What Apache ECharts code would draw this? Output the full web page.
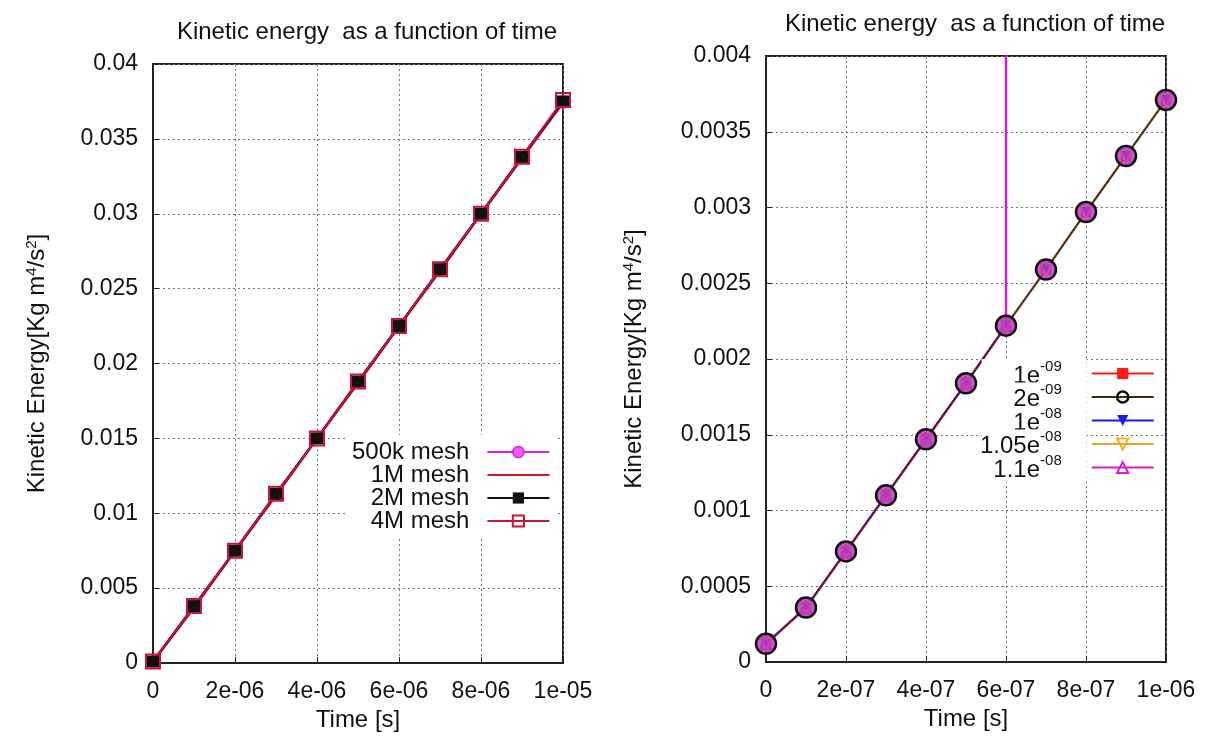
<!DOCTYPE html>
<html>
<head>
<meta charset="utf-8">
<script src="https://cdn.jsdelivr.net/npm/echarts@6/dist/echarts.min.js"></script>
<style>
  html, body { margin: 0; padding: 0; background: #fff; }
  #chart { width: 1208px; height: 738px; }
</style>
</head>
<body>
<div id="chart"></div>
<script>
// left panel: mesh study, time in s
var meshTime = [0, 1e-6, 2e-6, 3e-6, 4e-6, 5e-6, 6e-6, 7e-6, 8e-6, 9e-6, 1e-5];
var mesh500k = [0.0001, 0.0037, 0.0075, 0.0112, 0.0150, 0.0187, 0.0225, 0.0262, 0.0300, 0.0337, 0.0374];
var mesh1M   = [0.0001, 0.0037, 0.0075, 0.0112, 0.0150, 0.0187, 0.0225, 0.0262, 0.0300, 0.0337, 0.0375];
var mesh2M   = [0.0001, 0.0038, 0.0075, 0.0113, 0.0150, 0.0188, 0.0225, 0.0263, 0.0300, 0.0338, 0.0375];
var mesh4M   = [0.0001, 0.0038, 0.0075, 0.0113, 0.0150, 0.0188, 0.0225, 0.0263, 0.0300, 0.0338, 0.0376];

// right panel: time step study
var stepTime = [0, 1e-7, 2e-7, 3e-7, 4e-7, 5e-7, 6e-7, 7e-7, 8e-7, 9e-7, 1e-6];
var step1e09   = [0.00012, 0.00036, 0.00073, 0.00110, 0.00147, 0.00184, 0.00222, 0.00259, 0.00297, 0.00334, 0.00371];
var step2e09   = [0.00012, 0.00036, 0.00073, 0.00110, 0.00147, 0.00184, 0.00222, 0.00259, 0.00297, 0.00334, 0.00371];
var step1e08   = [0.00012, 0.00036, 0.00073, 0.00110, 0.00147, 0.00184, 0.00222, 0.00259, 0.00297, 0.00334, 0.00371];
var step105e08 = [0.00012, 0.00036, 0.00073, 0.00110, 0.00147, 0.00184, 0.00222, 0.00259, 0.00297, 0.00334, 0.00371];
// 1.1e-08 blows up just after 6e-07
var step11Time = [0, 1e-7, 2e-7, 3e-7, 4e-7, 5e-7, 6e-7, 6.001e-7];
var step11e08  = [0.00012, 0.00036, 0.00073, 0.00110, 0.00147, 0.00184, 0.00222, 0.05];

var font = '"Liberation Sans", Arial, sans-serif';
var fs = 23;   // tick labels
var fn = 24;   // titles, axis names, legend

function pairs(xs, ys) {
  return xs.map(function (x, i) { return [x, ys[i]]; });
}

function expLabel(v) {
  if (v === 0) return '0';
  var s = v.toExponential(0).split('e');
  var e = parseInt(s[1], 10);
  var sign = e < 0 ? '-' : '+';
  e = Math.abs(e);
  return s[0] + 'e' + sign + (e < 10 ? '0' + e : e);
}

// superscript for legend names like 1e-09
function supLegend(name) {
  var s = name.split('e');
  return '{b|' + s[0] + 'e}{s|' + '-' + s[1].replace('-', '') + '}';
}

var gridLine = { show: true, lineStyle: { color: '#777', type: [2, 3], width: 1 } };
var labelStyle = { color: '#111', fontFamily: font, fontSize: fs };
var nameRich = {
  sup: { fontSize: 15, verticalAlign: 'top', padding: [0, 0, 12, 0], fontFamily: font, color: '#111' }
};

function xAx(idx, max, interval) {
  return {
    type: 'value', gridIndex: idx, min: 0, max: max, interval: interval,
    name: 'Time [s]', nameLocation: 'middle', nameGap: 44,
    nameTextStyle: { color: '#111', fontFamily: font, fontSize: fn },
    axisLine: { show: true, lineStyle: { color: '#222', width: 2 } },
    axisTick: { show: true, inside: true, length: 6, lineStyle: { color: '#222' } },
    axisLabel: Object.assign({ formatter: expLabel, margin: 17 }, labelStyle),
    splitLine: gridLine
  };
}

function yAx(idx, max, interval, gap) {
  return {
    type: 'value', gridIndex: idx, min: 0, max: max, interval: interval,
    name: 'Kinetic Energy[Kg m{sup|4}/s{sup|2}]', nameLocation: 'middle', nameGap: gap,
    nameTextStyle: { color: '#111', fontFamily: font, fontSize: fn, rich: nameRich },
    axisLine: { show: true, lineStyle: { color: '#222', width: 2 } },
    axisTick: { show: true, inside: true, length: 6, lineStyle: { color: '#222' } },
    axisLabel: Object.assign({ margin: 15 }, labelStyle),
    splitLine: gridLine
  };
}

var chart = echarts.init(document.getElementById('chart'));

chart.setOption({
  backgroundColor: '#fff',
  animation: false,
  title: [
    { text: 'Kinetic energy  as a function of time', left: 362, top: 15, textAlign: 'center',
      textStyle: { color: '#111', fontFamily: font, fontSize: fn, fontWeight: 'normal' } },
    { text: 'Kinetic energy  as a function of time', left: 970, top: 7, textAlign: 'center',
      textStyle: { color: '#111', fontFamily: font, fontSize: fn, fontWeight: 'normal' } }
  ],
  grid: [
    { left: 153, top: 64, width: 410, height: 599, show: true, borderColor: '#222', borderWidth: 2, backgroundColor: '#fff' },
    { left: 766, top: 56, width: 400, height: 606, show: true, borderColor: '#222', borderWidth: 2, backgroundColor: '#fff' }
  ],
  xAxis: [xAx(0, 1e-5, 2e-6), xAx(1, 1e-6, 2e-7)],
  yAxis: [yAx(0, 0.04, 0.005, 102), yAx(1, 0.004, 0.0005, 118)],
  legend: [
    {
      data: [
        { name: '500k mesh', itemStyle: { color: '#f060f0', borderColor: '#e020e0', borderWidth: 1.5 } },
        { name: '1M mesh', itemStyle: { color: 'rgba(0,0,0,0)', borderWidth: 0 } },
        { name: '2M mesh' },
        { name: '4M mesh' }
      ],
      orient: 'vertical', left: 347, top: 435, align: 'right',
      itemWidth: 62, itemHeight: 14, itemGap: -1,
      backgroundColor: '#fff',
      textStyle: { color: '#111', fontFamily: font, fontSize: fn, width: 126, align: 'right', padding: [0, 13, 0, 0] }
    },
    {
      data: [
        { name: '1e-09' },
        { name: '2e-09', itemStyle: { color: 'rgba(0,0,0,0)', borderColor: '#111', borderWidth: 2.5 } },
        { name: '1e-08' },
        { name: '1.05e-08' },
        { name: '1.1e-08' }
      ],
      orient: 'vertical', left: 975, top: 354, align: 'right',
      itemWidth: 62, itemHeight: 14, itemGap: -5.5,
      backgroundColor: 'rgba(0,0,0,0)',
      formatter: supLegend,
      textStyle: {
        color: '#111', fontFamily: font, fontSize: fn, width: 80, align: 'right', padding: [0, 25, 0, 0],
        backgroundColor: '#fff',
        rich: {
          b: { fontSize: fn, fontFamily: font, color: '#111', verticalAlign: 'bottom' },
          s: { fontSize: 15, fontFamily: font, color: '#111', verticalAlign: 'top', padding: [0, 0, 14, 0] }
        }
      }
    }
  ],
  series: [
    { name: '500k mesh', type: 'line', xAxisIndex: 0, yAxisIndex: 0, data: pairs(meshTime, mesh500k),
      symbol: 'circle', symbolSize: 11, lineStyle: { color: '#e020e0', width: 2.5 },
      itemStyle: { color: '#e020e0', borderColor: '#e020e0' } },
    { name: '1M mesh', type: 'line', xAxisIndex: 0, yAxisIndex: 0, data: pairs(meshTime, mesh1M),
      symbol: 'none', lineStyle: { color: '#d01a2a', width: 2.5 }, itemStyle: { color: '#d01a2a' } },
    { name: '2M mesh', type: 'line', xAxisIndex: 0, yAxisIndex: 0, data: pairs(meshTime, mesh2M),
      symbol: 'rect', symbolSize: 12, lineStyle: { color: '#111', width: 2.5 },
      itemStyle: { color: '#111' } },
    { name: '4M mesh', type: 'line', xAxisIndex: 0, yAxisIndex: 0, data: pairs(meshTime, mesh4M),
      symbol: 'rect', symbolSize: 14,
      lineStyle: { color: '#c8143a', width: 2 },
      itemStyle: { color: 'rgba(0,0,0,0)', borderColor: '#c8143a', borderWidth: 2 } },

    { name: '1e-09', type: 'line', xAxisIndex: 1, yAxisIndex: 1, data: pairs(stepTime, step1e09),
      symbol: 'rect', symbolSize: 11, lineStyle: { color: '#ff1a1a', width: 2 },
      itemStyle: { color: '#ff1a1a' } },
    { name: '1e-08', type: 'line', xAxisIndex: 1, yAxisIndex: 1, data: pairs(stepTime, step1e08),
      symbol: 'triangle', symbolRotate: 180, symbolSize: 12, lineStyle: { color: '#1a1aee', width: 2 },
      itemStyle: { color: '#1a1aee' } },
    { name: '1.05e-08', type: 'line', xAxisIndex: 1, yAxisIndex: 1, data: pairs(stepTime, step105e08),
      symbol: 'triangle', symbolRotate: 180, symbolSize: 12, lineStyle: { color: '#e0a828', width: 2 },
      itemStyle: { color: 'rgba(0,0,0,0)', borderColor: '#f0b020', borderWidth: 2 } },
    { name: '1.1e-08', type: 'line', xAxisIndex: 1, yAxisIndex: 1, data: pairs(step11Time, step11e08),
      symbol: 'triangle', symbolSize: 12, lineStyle: { color: '#d020d0', width: 2.5 },
      itemStyle: { color: 'rgba(0,0,0,0)', borderColor: '#d020d0', borderWidth: 2 } },
    // drawn last so its circles sit over the other markers, as in the picture
    { name: '2e-09', type: 'line', xAxisIndex: 1, yAxisIndex: 1, data: pairs(stepTime, step2e09),
      symbol: 'circle', symbolSize: 20, lineStyle: { color: '#3a2a10', width: 1.5 },
      itemStyle: { color: 'rgba(190,60,190,0.85)', borderColor: '#111', borderWidth: 2.5 } }
  ]
});
</script>
</body>
</html>
